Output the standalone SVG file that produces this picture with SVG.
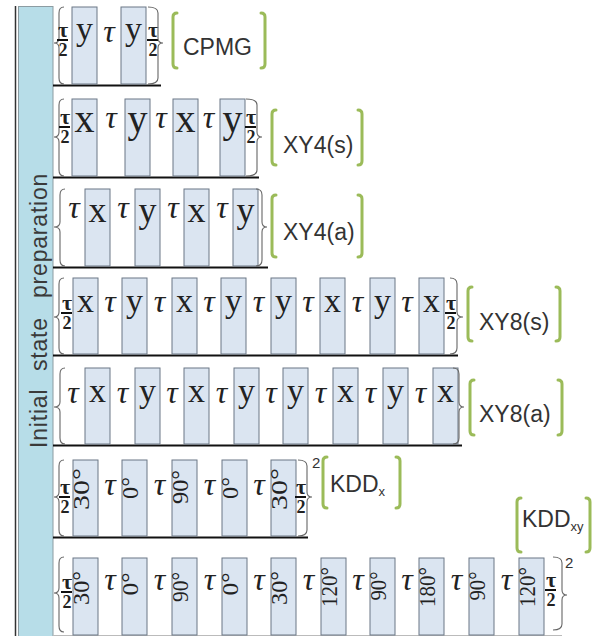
<svg xmlns="http://www.w3.org/2000/svg" xmlns:xlink="http://www.w3.org/1999/xlink" width="596" height="636" viewBox="0 0 596 636">
<style>
.bar{fill:#b7dde8;stroke:#8c9ca2;stroke-width:1}
.pulse{fill:#dbe5f1;stroke:#6b7785;stroke-width:1}
.rule{stroke:#111;stroke-width:2}
.brace{fill:none;stroke:#666;stroke-width:1.1}
.bracket{fill:none;stroke:#9bbb59;stroke-width:3;stroke-linecap:round}
.op{font-family:"Liberation Serif",serif;fill:#222;text-anchor:middle}
.tau{font-family:"Liberation Serif",serif;font-style:italic;fill:#222;text-anchor:middle;font-size:32px}
.ft{font-family:"Liberation Serif",serif;font-weight:bold;fill:#222;text-anchor:middle}
.fl{stroke:#111;stroke-width:2}
.ang{font-family:"Liberation Serif",serif;font-size:23px;fill:#222;text-anchor:middle}
.name{font-family:"Liberation Sans",sans-serif;font-size:23px;fill:#333}
.side{font-family:"Liberation Sans",sans-serif;font-size:23px;fill:#3a3a3a;letter-spacing:0.8px}
.sup{font-family:"Liberation Sans",sans-serif;font-size:15px;fill:#333}
</style>
<defs>
  <!-- tau over two -->
  <g id="half">
    <text class="ft" x="0" y="-3" font-size="22">τ</text>
    <line class="fl" x1="-6" y1="0" x2="5" y2="0"/>
    <text class="ft" x="0" y="16" font-size="18">2</text>
  </g>
</defs>

<!-- side label -->
<g id="sidebar">
  <line x1="15.5" y1="6" x2="15.5" y2="636" stroke="#333" stroke-width="1.5"/>
  <rect class="bar" x="18.5" y="6.5" width="34.5" height="640"/>
  <text class="side" transform="translate(47,448) rotate(-90)">Initial</text>
  <text class="side" transform="translate(47,371) rotate(-90)">state</text>
  <text class="side" transform="translate(47,298) rotate(-90)">preparation</text>
</g>

<!-- row rules -->
<g id="connectors">
  <line class="rule" x1="53" y1="85.5" x2="161" y2="85.5"/>
  <line class="rule" x1="53" y1="177.5" x2="259" y2="177.5"/>
  <line class="rule" x1="53" y1="267.5" x2="268" y2="267.5"/>
  <line class="rule" x1="53" y1="355.5" x2="458" y2="355.5"/>
  <line class="rule" x1="53" y1="445.5" x2="462" y2="445.5"/>
  <line class="rule" x1="53" y1="537.5" x2="308" y2="537.5"/>
  <line x1="53" y1="635.5" x2="562" y2="635.5" stroke="#bbb" stroke-width="1"/>
</g>

<!-- CPMG -->
<g id="cpmg">
  <path class="brace" d="M64,7 Q59,7 59,13 L59,38 Q59,43 54,43 Q59,43 59,48 L59,78 Q59,84 64,84"/>
  <use xlink:href="#half" x="63" y="40"/>
  <rect class="pulse" x="72" y="7" width="25" height="77"/>
  <text class="op" x="84.5" y="40" font-size="34">y</text>
  <text class="tau" x="109" y="42">τ</text>
  <rect class="pulse" x="121" y="7" width="25" height="77"/>
  <text class="op" x="133.5" y="40" font-size="34">y</text>
  <use xlink:href="#half" x="153" y="40"/>
  <path class="brace" d="M148,7 Q158,7 158,13 L158,38 Q158,43 163,43 Q158,43 158,48 L158,78 Q158,84 148,84"/>
  <path class="bracket" d="M177,13 Q173,13 173,17 L173,64 Q173,68 177,68"/>
  <path class="bracket" d="M261,13 Q265,13 265,17 L265,64 Q265,68 261,68"/>
  <text class="name" x="183" y="55">CPMG</text>
</g>

<!-- XY4 symmetric -->
<g id="xy4s">
  <path class="brace" d="M64,99 Q59,99 59,105 L59,132 Q59,137 54,137 Q59,137 59,142 L59,170 Q59,176 64,176"/>
  <use xlink:href="#half" x="65" y="127"/>
  <rect class="pulse" x="72" y="99" width="25" height="77"/>
  <text class="op" x="84.5" y="132" font-size="40">x</text>
  <text class="tau" x="111" y="128">τ</text>
  <rect class="pulse" x="125" y="99" width="25" height="77"/>
  <text class="op" x="137.5" y="132" font-size="40">y</text>
  <text class="tau" x="161" y="128">τ</text>
  <rect class="pulse" x="173" y="99" width="25" height="77"/>
  <text class="op" x="185.5" y="132" font-size="40">x</text>
  <text class="tau" x="208.5" y="128">τ</text>
  <rect class="pulse" x="220" y="99" width="25" height="77"/>
  <text class="op" x="232.5" y="132" font-size="40">y</text>
  <use xlink:href="#half" x="251" y="127"/>
  <path class="brace" d="M246,99 Q257,99 257,105 L257,132 Q257,137 262,137 Q257,137 257,142 L257,170 Q257,176 246,176"/>
  <path class="bracket" d="M276,110 Q272,110 272,114 L272,161 Q272,165 276,165"/>
  <path class="bracket" d="M358,110 Q362,110 362,114 L362,161 Q362,165 358,165"/>
  <text class="name" x="283" y="153">XY4(s)</text>
</g>

<!-- XY4 asymmetric -->
<g id="xy4a">
  <path class="brace" d="M65,189 Q60,189 60,195 L60,222 Q60,227 54,227 Q60,227 60,232 L60,260 Q60,266 65,266"/>
  <text class="tau" x="74" y="218">τ</text>
  <rect class="pulse" x="85" y="189" width="25" height="77"/>
  <text class="op" x="97.5" y="222" font-size="36">x</text>
  <text class="tau" x="123" y="218">τ</text>
  <rect class="pulse" x="135" y="189" width="25" height="77"/>
  <text class="op" x="147.5" y="222" font-size="36">y</text>
  <text class="tau" x="173" y="218">τ</text>
  <rect class="pulse" x="184" y="189" width="25" height="77"/>
  <text class="op" x="196.5" y="222" font-size="36">x</text>
  <text class="tau" x="222" y="218">τ</text>
  <rect class="pulse" x="233" y="189" width="25" height="77"/>
  <text class="op" x="245.5" y="222" font-size="36">y</text>
  <path class="brace" d="M256,189 Q262,189 262,195 L262,222 Q262,227 267,227 Q262,227 262,232 L262,260 Q262,266 256,266"/>
  <path class="bracket" d="M276,195 Q272,195 272,199 L272,253 Q272,257 276,257"/>
  <path class="bracket" d="M358,195 Q362,195 362,199 L362,253 Q362,257 358,257"/>
  <text class="name" x="283" y="240">XY4(a)</text>
</g>

<!-- XY8 symmetric -->
<g id="xy8s">
  <path class="brace" d="M64,278 Q59,278 59,284 L59,312 Q59,317 54,317 Q59,317 59,322 L59,348 Q59,354 64,354"/>
  <use xlink:href="#half" x="67" y="313"/>
  <rect class="pulse" x="73" y="278" width="25" height="76"/>
  <text class="op" x="85.5" y="312" font-size="34">x</text>
  <text class="tau" x="110" y="312">τ</text>
  <rect class="pulse" x="122" y="278" width="25" height="76"/>
  <text class="op" x="134.5" y="312" font-size="34">y</text>
  <text class="tau" x="159.5" y="312">τ</text>
  <rect class="pulse" x="172" y="278" width="25" height="76"/>
  <text class="op" x="184.5" y="312" font-size="34">x</text>
  <text class="tau" x="209" y="312">τ</text>
  <rect class="pulse" x="221" y="278" width="25" height="76"/>
  <text class="op" x="233.5" y="312" font-size="34">y</text>
  <text class="tau" x="258.5" y="312">τ</text>
  <rect class="pulse" x="271" y="278" width="25" height="76"/>
  <text class="op" x="283.5" y="312" font-size="34">y</text>
  <text class="tau" x="308" y="312">τ</text>
  <rect class="pulse" x="320" y="278" width="25" height="76"/>
  <text class="op" x="332.5" y="312" font-size="34">x</text>
  <text class="tau" x="357.5" y="312">τ</text>
  <rect class="pulse" x="370" y="278" width="25" height="76"/>
  <text class="op" x="382.5" y="312" font-size="34">y</text>
  <text class="tau" x="407" y="312">τ</text>
  <rect class="pulse" x="419" y="278" width="25" height="76"/>
  <text class="op" x="431.5" y="312" font-size="34">x</text>
  <use xlink:href="#half" x="451" y="313"/>
  <path class="brace" d="M450,278 Q457,278 457,284 L457,312 Q457,317 463,317 Q457,317 457,322 L457,348 Q457,354 450,354"/>
  <path class="bracket" d="M472,287 Q468,287 468,291 L468,337 Q468,341 472,341"/>
  <path class="bracket" d="M556,287 Q560,287 560,291 L560,337 Q560,341 556,341"/>
  <text class="name" x="479" y="330">XY8(s)</text>
</g>

<!-- XY8 asymmetric -->
<g id="xy8a">
  <path class="brace" d="M65,368 Q60,368 60,374 L60,402 Q60,407 54,407 Q60,407 60,412 L60,438 Q60,444 65,444"/>
  <text class="tau" x="73" y="403">τ</text>
  <rect class="pulse" x="85" y="368" width="25" height="76"/>
  <text class="op" x="97.5" y="402" font-size="34">x</text>
  <text class="tau" x="122.5" y="403">τ</text>
  <rect class="pulse" x="135" y="368" width="25" height="76"/>
  <text class="op" x="147.5" y="402" font-size="34">y</text>
  <text class="tau" x="172" y="403">τ</text>
  <rect class="pulse" x="184" y="368" width="25" height="76"/>
  <text class="op" x="196.5" y="402" font-size="34">x</text>
  <text class="tau" x="221.5" y="403">τ</text>
  <rect class="pulse" x="234" y="368" width="25" height="76"/>
  <text class="op" x="246.5" y="402" font-size="34">y</text>
  <text class="tau" x="271" y="403">τ</text>
  <rect class="pulse" x="283" y="368" width="25" height="76"/>
  <text class="op" x="295.5" y="402" font-size="34">y</text>
  <text class="tau" x="320.5" y="403">τ</text>
  <rect class="pulse" x="333" y="368" width="25" height="76"/>
  <text class="op" x="345.5" y="402" font-size="34">x</text>
  <text class="tau" x="370.5" y="403">τ</text>
  <rect class="pulse" x="383" y="368" width="25" height="76"/>
  <text class="op" x="395.5" y="402" font-size="34">y</text>
  <text class="tau" x="420.5" y="403">τ</text>
  <rect class="pulse" x="433" y="368" width="25" height="76"/>
  <text class="op" x="445.5" y="402" font-size="34">x</text>
  <path class="brace" d="M453,368 Q459,368 459,374 L459,402 Q459,407 464,407 Q459,407 459,412 L459,438 Q459,444 453,444"/>
  <path class="bracket" d="M474,380 Q470,380 470,384 L470,431 Q470,435 474,435"/>
  <path class="bracket" d="M558,380 Q562,380 562,384 L562,431 Q562,435 558,435"/>
  <text class="name" x="479" y="422">XY8(a)</text>
</g>

<!-- KDD x -->
<g id="kddx">
  <path class="brace" d="M64,460 Q59,460 59,466 L59,492 Q59,497 54,497 Q59,497 59,502 L59,530 Q59,536 64,536"/>
  <use xlink:href="#half" x="65" y="497"/>
  <rect class="pulse" x="73" y="460" width="25" height="76"/>
  <text class="ang" transform="translate(85.5,489) rotate(-90)" x="0" y="3.5" textLength="42" lengthAdjust="spacingAndGlyphs">30°</text>
  <text class="tau" x="110" y="495" font-size="34">τ</text>
  <rect class="pulse" x="122" y="460" width="25" height="76"/>
  <text class="ang" transform="translate(134.5,488) rotate(-90)" x="0" y="3.5" textLength="22" lengthAdjust="spacingAndGlyphs">0°</text>
  <text class="tau" x="159.5" y="495" font-size="34">τ</text>
  <rect class="pulse" x="172" y="460" width="25" height="76"/>
  <text class="ang" transform="translate(184.5,487) rotate(-90)" x="0" y="3.5" textLength="34" lengthAdjust="spacingAndGlyphs">90°</text>
  <text class="tau" x="209.5" y="495" font-size="34">τ</text>
  <rect class="pulse" x="222" y="460" width="25" height="76"/>
  <text class="ang" transform="translate(234.5,488) rotate(-90)" x="0" y="3.5" textLength="22" lengthAdjust="spacingAndGlyphs">0°</text>
  <text class="tau" x="259" y="495" font-size="34">τ</text>
  <rect class="pulse" x="271" y="460" width="25" height="76"/>
  <text class="ang" transform="translate(283.5,489) rotate(-90)" x="0" y="3.5" textLength="42" lengthAdjust="spacingAndGlyphs">30°</text>
  <use xlink:href="#half" x="301" y="497"/>
  <path class="brace" d="M298,460 Q307,460 307,466 L307,492 Q307,497 312,497 Q307,497 307,502 L307,530 Q307,536 298,536"/>
  <text class="sup" x="312" y="468">2</text>
  <path class="bracket" d="M327,457 Q323,457 323,461 L323,504 Q323,508 327,508"/>
  <path class="bracket" d="M396,457 Q400,457 400,461 L400,504 Q400,508 396,508"/>
  <text class="name" x="330" y="492" font-size="20">KDD<tspan font-size="13" dy="4">x</tspan></text>
</g>

<!-- KDD xy -->
<g id="kddxy">
  <path class="brace" d="M64,557 Q59,557 59,563 L59,588 Q59,593 54,593 Q59,593 59,598 L59,626 Q59,632 64,632"/>
  <use xlink:href="#half" x="67" y="592"/>
  <rect class="pulse" x="73" y="558" width="25" height="77"/>
  <text class="ang" transform="translate(85.5,588) rotate(-90)" x="0" y="3.5" textLength="34" lengthAdjust="spacingAndGlyphs">30°</text>
  <text class="tau" x="110" y="590" font-size="34">τ</text>
  <rect class="pulse" x="122" y="558" width="25" height="77"/>
  <text class="ang" transform="translate(134.5,584) rotate(-90)" x="0" y="3.5" textLength="23" lengthAdjust="spacingAndGlyphs">0°</text>
  <text class="tau" x="159.5" y="590" font-size="34">τ</text>
  <rect class="pulse" x="172" y="558" width="25" height="77"/>
  <text class="ang" transform="translate(184.5,587) rotate(-90)" x="0" y="3.5" textLength="30" lengthAdjust="spacingAndGlyphs">90°</text>
  <text class="tau" x="209.5" y="590" font-size="34">τ</text>
  <rect class="pulse" x="222" y="558" width="25" height="77"/>
  <text class="ang" transform="translate(234.5,584) rotate(-90)" x="0" y="3.5" textLength="23" lengthAdjust="spacingAndGlyphs">0°</text>
  <text class="tau" x="259" y="590" font-size="34">τ</text>
  <rect class="pulse" x="271" y="558" width="25" height="77"/>
  <text class="ang" transform="translate(283.5,588) rotate(-90)" x="0" y="3.5" textLength="34" lengthAdjust="spacingAndGlyphs">30°</text>
  <text class="tau" x="308.5" y="590" font-size="34">τ</text>
  <rect class="pulse" x="321" y="558" width="25" height="77"/>
  <text class="ang" transform="translate(333.5,587) rotate(-90)" x="0" y="3.5" textLength="40" lengthAdjust="spacingAndGlyphs">120°</text>
  <text class="tau" x="358" y="590" font-size="34">τ</text>
  <rect class="pulse" x="370" y="558" width="25" height="77"/>
  <text class="ang" transform="translate(382.5,586) rotate(-90)" x="0" y="3.5" textLength="29" lengthAdjust="spacingAndGlyphs">90°</text>
  <text class="tau" x="407" y="590" font-size="34">τ</text>
  <rect class="pulse" x="419" y="558" width="25" height="77"/>
  <text class="ang" transform="translate(431.5,587) rotate(-90)" x="0" y="3.5" textLength="40" lengthAdjust="spacingAndGlyphs">180°</text>
  <text class="tau" x="456.5" y="590" font-size="34">τ</text>
  <rect class="pulse" x="469" y="558" width="25" height="77"/>
  <text class="ang" transform="translate(481.5,586) rotate(-90)" x="0" y="3.5" textLength="29" lengthAdjust="spacingAndGlyphs">90°</text>
  <text class="tau" x="506.5" y="590" font-size="34">τ</text>
  <rect class="pulse" x="519" y="558" width="25" height="77"/>
  <text class="ang" transform="translate(531.5,587) rotate(-90)" x="0" y="3.5" textLength="40" lengthAdjust="spacingAndGlyphs">120°</text>
  <use xlink:href="#half" x="551" y="590"/>
  <path class="brace" d="M553,557 Q562,557 562,563 L562,590 Q562,595 567,595 Q562,595 562,600 L562,624 Q562,630 553,630"/>
  <text class="sup" x="565" y="568">2</text>
  <path class="bracket" d="M521,498 Q517,498 517,502 L517,548 Q517,552 521,552"/>
  <path class="bracket" d="M586,498 Q590,498 590,502 L590,548 Q590,552 586,552"/>
  <text class="name" x="522" y="527" font-size="20">KDD<tspan font-size="13" dy="4">xy</tspan></text>
</g>
</svg>
